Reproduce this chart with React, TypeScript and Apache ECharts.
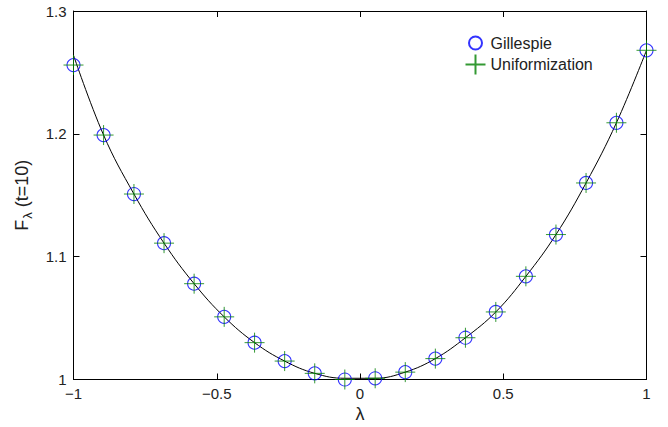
import React, { useEffect, useRef } from "react";
import * as echarts from "echarts";

const lambdaValues = [-1, -0.895, -0.789, -0.684, -0.579, -0.474, -0.368, -0.263, -0.158, -0.053, 0.053, 0.158, 0.263, 0.368, 0.474, 0.579, 0.684, 0.789, 0.895, 1];
const gillespieValues = [1.256, 1.199, 1.151, 1.111, 1.078, 1.051, 1.03, 1.015, 1.005, 1.0, 1.001, 1.006, 1.017, 1.034, 1.055, 1.084, 1.118, 1.16, 1.209, 1.268];
const uniformizationValues = [1.256, 1.199, 1.151, 1.111, 1.078, 1.051, 1.03, 1.015, 1.005, 1.0, 1.001, 1.006, 1.017, 1.034, 1.055, 1.084, 1.118, 1.16, 1.209, 1.268];
const curveValues = [1.264, 1.199, 1.151, 1.111, 1.078, 1.051, 1.03, 1.015, 1.005, 1.001, 1.001, 1.006, 1.017, 1.034, 1.055, 1.084, 1.118, 1.16, 1.209, 1.268];
const xTickLabels = ["\u22121", "\u22120.5", "0", "0.5", "1"];
const yTickLabels = ["1", "1.1", "1.2", "1.3"];

const FONT = "'Liberation Sans', Arial, Helvetica, sans-serif";
const TEXT = "#222";
const PLUS = "path://M0,10L20,10M10,0L10,20";
const CIRCLE_ICON = "path://M0,0L0,0M20,20L20,20M16.5,10A6.5,6.5,0,1,1,3.5,10A6.5,6.5,0,1,1,16.5,10Z";

export default function App() {
  const ref = useRef<HTMLDivElement>(null);
  useEffect(() => {
    if (!ref.current) return;
    const chart = echarts.init(ref.current, null, { renderer: "svg" });
    const pair = (ys: number[]) => lambdaValues.map((x, i) => [x, ys[i]]);
    const fmtX = (v: number) => xTickLabels[Math.round((v + 1) / 0.5)] ?? String(v);
    const fmtY = (v: number) => yTickLabels[Math.round((v - 1) / 0.1)] ?? String(v);
    const axisCommon = {
      axisLine: { show: true, onZero: false, lineStyle: { color: "#000", width: 1 } },
      axisTick: { show: true, inside: true, length: 6, lineStyle: { color: "#000" } },
      splitLine: { show: false },
    };
    chart.setOption({
      animation: false,
      backgroundColor: "#fff",
      grid: { left: 73.5, right: 21.5, top: 11, bottom: 47.5, containLabel: false, outerBoundsMode: "none" },
      legend: {
        orient: "vertical",
        left: 458,
        top: 27,
        padding: 5,
        itemWidth: 20,
        itemHeight: 20,
        itemGap: -2,
        textStyle: { fontFamily: FONT, fontSize: 16, color: TEXT },
        data: [
          { name: "Gillespie", icon: CIRCLE_ICON },
          { name: "Uniformization", icon: PLUS },
        ],
      },
      xAxis: [
        {
          type: "value",
          min: -1,
          max: 1,
          interval: 0.5,
          position: "bottom",
          name: "λ",
          nameLocation: "middle",
          nameGap: 24,
          nameTextStyle: { fontFamily: FONT, fontSize: 18, color: TEXT },
          axisLabel: { margin: 6, fontFamily: FONT, fontSize: 15, color: TEXT, formatter: fmtX },
          ...axisCommon,
        },
        {
          type: "value",
          min: -1,
          max: 1,
          interval: 0.5,
          position: "top",
          axisLabel: { show: false },
          ...axisCommon,
        },
      ],
      yAxis: [
        {
          type: "value",
          min: 1,
          max: 1.3,
          interval: 0.1,
          position: "left",
          name: "{a|F}{sub|λ}{a| (t=10)}",
          nameLocation: "middle",
          nameRotate: 90,
          nameGap: 40,
          nameTextStyle: {
            fontFamily: FONT,
            color: TEXT,
            rich: {
              a: { fontFamily: FONT, fontSize: 18, color: TEXT },
              sub: { fontFamily: FONT, fontSize: 13, color: TEXT, padding: [11, 0, 0, 1] },
            },
          },
          axisLabel: { margin: 7, fontFamily: FONT, fontSize: 15, color: TEXT, formatter: fmtY },
          ...axisCommon,
        },
        {
          type: "value",
          min: 1,
          max: 1.3,
          interval: 0.1,
          position: "right",
          axisLabel: { show: false },
          ...axisCommon,
        },
      ],
      series: [
        {
          name: "curve",
          type: "line",
          data: pair(curveValues),
          smooth: 0.4,
          showSymbol: false,
          lineStyle: { color: "#000", width: 1 },
          z: 1,
        },
        {
          name: "Gillespie",
          type: "scatter",
          data: pair(gillespieValues),
          symbol: "circle",
          symbolSize: 13,
          itemStyle: { color: "rgba(0,0,0,0)", borderColor: "#0000ff", borderWidth: 1.1 },
          z: 2,
        },
        {
          name: "Uniformization",
          type: "scatter",
          data: pair(uniformizationValues),
          symbol: PLUS,
          symbolSize: 20,
          itemStyle: { color: "none", borderColor: "#008000", borderWidth: 1 },
          z: 3,
        },
      ],
    });
    return () => chart.dispose();
  }, []);
  return <div ref={ref} style={{ width: 668, height: 427, position: "absolute", left: 0, top: 0 }} />;
}
